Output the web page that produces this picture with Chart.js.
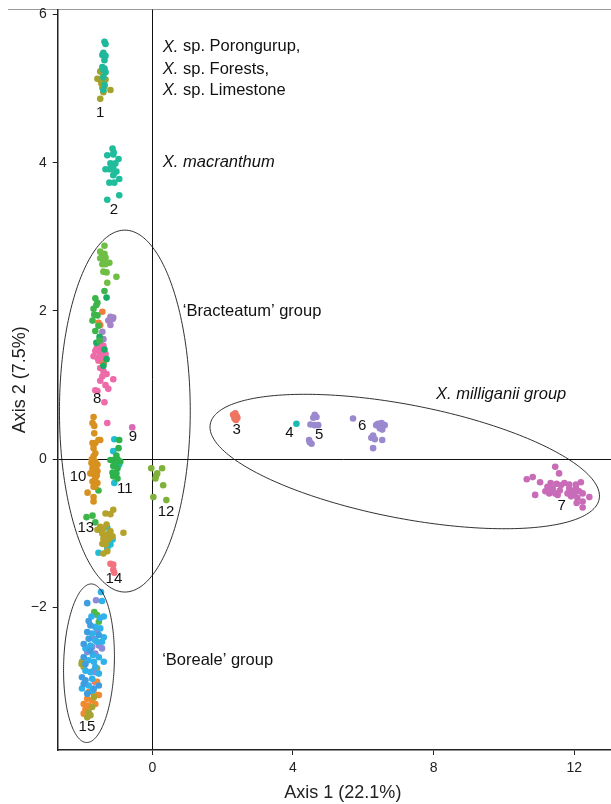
<!DOCTYPE html>
<html>
<head>
<meta charset="utf-8">
<script src="https://cdn.jsdelivr.net/npm/chart.js@4.4.1/dist/chart.umd.min.js"></script>
<style>
  html, body { margin: 0; padding: 0; background: #fff; overflow: hidden; }
  #wrap { width: 628px; height: 804px; }
</style>
</head>
<body>
<div id="wrap"><canvas id="c" width="628" height="804"></canvas></div>
<script>
// ---- PCoA scores (Axis 1, Axis 2) by group / colour ----
const g1Teal = [[-1.36,5.63],[-1.33,5.60],[-1.39,5.48],[-1.42,5.45],[-1.33,5.44],[-1.36,5.38],[-1.42,5.29],[-1.36,5.27],[-1.39,5.25],[-1.33,5.22],[-1.39,5.15],[-1.36,5.05],[-1.39,4.98]];
const g1Olive = [[-1.48,5.23],[-1.42,5.21],[-1.56,5.13],[-1.48,5.12],[-1.33,5.12],[-1.39,5.09],[-1.45,5.07],[-1.36,5.03],[-1.42,5.01],[-1.39,4.95],[-1.19,4.98],[-1.48,4.86]];
const g2Teal = [[-1.13,4.19],[-1.10,4.14],[-1.28,4.10],[-1.11,4.11],[-0.96,4.05],[-1.19,3.99],[-1.05,3.99],[-1.13,3.96],[-1.33,3.91],[-1.22,3.91],[-1.11,3.94],[-1.02,3.88],[-1.08,3.86],[-1.11,3.83],[-0.94,3.78],[-1.22,3.73],[-1.08,3.73],[-1.28,3.50],[-0.94,3.56]];
const g8Lime = [[-1.36,2.88],[-1.48,2.80],[-1.36,2.77],[-1.42,2.75],[-1.33,2.72],[-1.48,2.71],[-1.39,2.68],[-1.22,2.65],[-1.42,2.63],[-1.33,2.63],[-1.39,2.53],[-1.30,2.52],[-1.02,2.46],[-1.28,2.38]];
const g8Green = [[-1.36,2.27],[-1.62,2.17],[-1.67,2.03],[-1.56,2.11],[-1.70,1.87],[-1.56,1.94],[-1.62,1.73],[-1.53,1.80],[-1.59,2.08],[-1.65,1.95],[-1.50,1.60]];
const g8Dark = [[-1.30,2.18],[-1.59,1.57],[-1.36,1.48],[-1.39,1.26],[-1.30,1.35],[-1.50,1.65]];
const g8Orange = [[-1.42,1.99],[-1.48,1.81],[-1.39,1.29],[-1.53,1.84]];
const g8Purple = [[-1.19,1.92],[-1.11,1.91],[-1.25,1.87],[-1.13,1.89],[-1.19,1.81],[-1.42,1.72],[-1.39,1.62]];
const g8Pink = [[-1.48,1.56],[-1.39,1.53],[-1.62,1.46],[-1.48,1.43],[-1.67,1.39],[-1.56,1.37],[-1.42,1.38],[-1.33,1.42],[-1.53,1.33],[-1.39,1.30],[-1.48,1.23],[-1.39,1.19],[-1.42,1.12],[-1.48,1.06],[-1.11,1.08],[-1.25,0.95],[-1.56,0.92],[-1.36,0.77],[-1.45,1.48],[-1.58,1.50],[-1.36,1.35],[-1.30,1.15],[-1.62,0.93],[-1.28,0.49],[-1.33,1.00]];
const g9Pink = [[-0.57,0.43]];
const g10Gold = [[-1.67,0.57],[-1.70,0.49],[-1.65,0.45],[-1.65,0.35],[-1.53,0.26],[-1.70,0.22],[-1.62,0.22],[-1.48,0.26],[-1.67,0.15],[-1.62,0.08],[-1.67,0.04],[-1.62,-0.03],[-1.73,-0.05],[-1.56,-0.07],[-1.70,-0.12],[-1.65,-0.14],[-1.56,-0.16],[-1.76,-0.19],[-1.67,-0.20],[-1.62,-0.26],[-1.70,-0.30],[-1.56,-0.32],[-1.67,-0.37],[-1.62,-0.37],[-1.84,-0.45],[-1.67,-0.51],[-1.67,-0.57],[-1.60,-0.10],[-1.72,0.00],[-1.58,-0.22],[-1.64,-0.28]];
const g10Green = [[-1.53,-0.42]];
const g11Green = [[-0.94,0.26],[-0.96,0.15],[-1.02,0.05],[-1.19,-0.01],[-1.11,-0.01],[-0.99,0.00],[-0.91,-0.03],[-1.11,-0.09],[-0.99,-0.12],[-1.13,-0.18],[-1.02,-0.19],[-1.11,-0.23],[-0.99,-0.26],[-1.05,-0.05]];
const g11Cyan = [[-1.08,0.27],[-1.11,0.11],[-0.94,-0.07],[-1.08,-0.32]];
const g12Lime = [[-0.03,-0.12],[0.14,-0.19],[0.28,-0.12],[0.09,-0.26],[0.11,-0.22],[0.31,-0.35],[0.03,-0.51],[0.40,-0.55]];
const g13Olive = [[-1.33,-0.73],[-1.19,-0.74],[-1.11,-0.68],[-1.48,-0.91],[-1.56,-0.95],[-1.39,-0.93],[-1.42,-1.00],[-1.28,-1.01],[-1.13,-1.04],[-1.39,-1.07],[-1.25,-1.08],[-1.42,-1.14],[-1.33,-1.15],[-1.19,-0.97],[-0.82,-0.99],[-1.28,-1.24],[-1.39,-1.27],[-1.30,-0.88]];
const g13Green = [[-1.87,-0.78],[-1.70,-0.76],[-1.62,-0.85],[-1.48,-0.95]];
const g13Cyan = [[-1.28,-0.92],[-1.13,-1.08],[-1.19,-1.15],[-1.53,-1.26],[-1.28,-1.20]];
const g14Salmon = [[-1.19,-1.41],[-1.11,-1.42],[-1.11,-1.49],[-1.08,-1.53]];
const g15Blue = [[-1.85,-1.94],[-1.81,-2.18],[-1.76,-2.24],[-1.85,-2.33],[-1.52,-2.37],[-1.81,-2.42],[-1.95,-2.49],[-1.76,-2.58],[-1.95,-2.67],[-1.90,-2.76],[-2.00,-2.94],[-1.90,-2.98],[-1.95,-3.03],[-1.52,-3.05],[-1.85,-3.16],[-1.66,-3.09]];
const g15Light = [[-1.46,-1.79],[-1.43,-1.91],[-1.73,-2.12],[-1.49,-2.14],[-1.38,-2.12],[-1.62,-2.26],[-1.48,-2.28],[-1.71,-2.35],[-1.38,-2.40],[-1.62,-2.44],[-1.43,-2.46],[-1.76,-2.51],[-1.90,-2.55],[-1.52,-2.67],[-1.81,-2.71],[-1.38,-2.73],[-1.66,-2.73],[-1.62,-2.80],[-1.90,-2.85],[-1.76,-2.87],[-1.52,-2.89],[-1.71,-2.96],[-1.81,-3.05],[-2.00,-3.09],[-1.71,-3.12],[-1.57,-2.46],[-1.69,-2.64]];
const g15Peri = [[-1.60,-1.90],[-1.57,-2.33],[-1.71,-2.53],[-1.43,-2.55],[-1.85,-2.60],[-1.62,-2.62],[-1.52,-2.51],[-1.66,-2.42],[-1.62,-2.87]];
const g15Green = [[-1.65,-2.06],[-1.57,-2.10],[-1.52,-2.19]];
const g15Olive = [[-2.00,-2.73],[-2.01,-2.76],[-1.95,-2.80],[-1.57,-2.82],[-1.66,-3.21],[-1.71,-3.34],[-1.81,-3.41],[-1.85,-3.48],[-1.76,-3.45]];
const g15Orange = [[-1.81,-3.14],[-1.66,-3.16],[-1.52,-3.18],[-1.85,-3.23],[-1.71,-3.25],[-1.95,-3.30],[-1.81,-3.32],[-1.62,-3.30],[-1.90,-3.37],[-1.95,-3.43],[-1.57,-3.00]];
const g15Pink = [[-1.66,-2.85],[-1.64,-3.00]];
const g3Red = [[2.30,0.60],[2.36,0.62],[2.40,0.58],[2.34,0.55],[2.42,0.56],[2.38,0.53],[2.33,0.58]];
const g4Teal = [[4.10,0.48]];
const g5Purple = [[4.62,0.60],[4.67,0.57],[4.58,0.56],[4.50,0.47],[4.62,0.46],[4.72,0.46],[4.46,0.26],[4.53,0.21],[4.48,0.23]];
const g6Purple = [[5.71,0.55],[6.42,0.48],[6.52,0.49],[6.61,0.46],[6.47,0.42],[6.54,0.40],[6.37,0.46],[6.28,0.32],[6.23,0.29],[6.33,0.27],[6.54,0.26],[6.28,0.15]];
const g7Magenta = [[11.46,-0.10],[11.57,-0.19],[10.65,-0.27],[10.82,-0.24],[11.03,-0.31],[11.72,-0.32],[11.33,-0.32],[11.50,-0.33],[11.62,-0.35],[11.24,-0.37],[11.39,-0.39],[11.18,-0.43],[11.29,-0.46],[11.46,-0.46],[11.59,-0.42],[10.89,-0.48],[11.86,-0.34],[12.19,-0.31],[12.05,-0.39],[12.14,-0.43],[11.95,-0.43],[11.81,-0.46],[12.00,-0.48],[12.24,-0.46],[11.91,-0.50],[12.09,-0.52],[12.43,-0.51],[12.24,-0.57],[12.07,-0.59],[12.24,-0.65],[11.86,-0.39],[11.53,-0.48],[11.34,-0.42],[12.05,-0.34]];

// Group numbers and where they sit (data units)
const groupNames = ['1','2','3','4','5','6','7','8','9','10','11','12','13','14','15'];
const groupLabelAt = [[-1.48,4.67],[-1.09,3.37],[2.40,0.40],[3.90,0.36],[4.75,0.33],[5.97,0.45],[11.64,-0.63],[-1.57,0.81],[-0.55,0.30],[-2.11,-0.24],[-0.78,-0.40],[0.39,-0.71],[-1.89,-0.93],[-1.09,-1.61],[-1.86,-3.61]];

// Axis tick values
const xTickValues = [0, 4, 8, 12];
const yTickValues = [-2, 0, 2, 4, 6];

const FONT = "'Liberation Sans', Arial, Helvetica, sans-serif";

// Group outlines: centre and two conjugate semi-axes, in data units
const ellipses = [
  { c: [-0.78, 0.65], u: [1.86, 0], v: [0, 2.44] },
  { c: [-1.80, -2.75], u: [0.72, -0.011], v: [0.071, 1.069] },
  { c: [7.18, -0.03], u: [5.53, -0.506], v: [-0.302, -0.752] }
];

// Text notes: pieces with italic flags, left edge and vertical middle in data units
const notes = [
  { at: [0.30, 5.56], parts: [['X.', true], [' sp. Porongurup,', false]] },
  { at: [0.30, 5.26], parts: [['X.', true], [' sp. Forests,', false]] },
  { at: [0.30, 4.97], parts: [['X.', true], [' sp. Limestone', false]] },
  { at: [0.30, 4.00], parts: [['X. macranthum', true]] },
  { at: [0.87, 2.00], parts: [['\u2018Bracteatum\u2019 group', false]] },
  { at: [8.07, 0.87], parts: [['X. milliganii group', true]] },
  { at: [0.28, -2.71], parts: [['\u2018Boreale\u2019 group', false]] }
];

const series = [
  [g1Teal, '#1fb89b'], [g1Olive, '#a3a22c'], [g2Teal, '#20bd9d'],
  [g8Lime, '#6fbf44'], [g8Green, '#3db54a'], [g8Dark, '#1aac62'], [g8Orange, '#f07d3b'],
  [g8Purple, '#a484c9'], [g8Pink, '#ee6aa8'], [g9Pink, '#da6ab8'],
  [g10Gold, '#d8901f'], [g10Green, '#3cb54a'],
  [g11Green, '#2db24c'], [g11Cyan, '#1fbdd2'], [g12Lime, '#7eb23a'],
  [g13Olive, '#b5a22b'], [g13Green, '#3db54a'], [g13Cyan, '#22bcd4'], [g14Salmon, '#f2727e'],
  [g15Blue, '#3e9de0'], [g15Light, '#30b1ea'], [g15Peri, '#8a8cd8'], [g15Green, '#50b848'],
  [g15Olive, '#a6a330'], [g15Orange, '#ef8a2e'], [g15Pink, '#f0708c'],
  [g3Red, '#f07560'], [g4Teal, '#1cbab0'], [g5Purple, '#9b89cf'], [g6Purple, '#9b89cf'], [g7Magenta, '#c86cb8']
];

const datasets = series.map(([pts, col]) => ({
  data: pts.map(p => ({ x: p[0], y: p[1] })),
  backgroundColor: col,
  borderWidth: 0,
  pointRadius: 3.3,
  pointHoverRadius: 3.3
}));

const minusFmt = v => (v < 0 ? '\u2212' + Math.abs(v) : String(v));

const decorations = {
  id: 'decorations',
  beforeDraw(chart) {
    const { ctx, chartArea } = chart;
    ctx.save();
    ctx.strokeStyle = '#9a9a9a';
    ctx.lineWidth = 1;
    ctx.beginPath();
    ctx.moveTo(8, Math.round(chartArea.top) - 0.5);
    ctx.lineTo(chart.width, Math.round(chartArea.top) - 0.5);
    ctx.stroke();
    ctx.restore();
  },
  afterDatasetsDraw(chart) {
    const { ctx, scales: { x, y } } = chart;
    ctx.save();
    // outlines
    ctx.strokeStyle = '#1a1a1a';
    ctx.lineWidth = 0.9;
    ellipses.forEach(e => {
      ctx.beginPath();
      for (let i = 0; i <= 240; i++) {
        const t = (i / 240) * Math.PI * 2;
        const dx = e.c[0] + e.u[0] * Math.cos(t) + e.v[0] * Math.sin(t);
        const dy = e.c[1] + e.u[1] * Math.cos(t) + e.v[1] * Math.sin(t);
        const px = x.getPixelForValue(dx), py = y.getPixelForValue(dy);
        if (i === 0) ctx.moveTo(px, py); else ctx.lineTo(px, py);
      }
      ctx.closePath();
      ctx.stroke();
    });
    // group numbers
    ctx.fillStyle = '#111';
    ctx.font = '15px ' + FONT;
    ctx.textAlign = 'center';
    ctx.textBaseline = 'middle';
    groupNames.forEach((n, i) => {
      const p = groupLabelAt[i];
      ctx.fillText(n, x.getPixelForValue(p[0]), y.getPixelForValue(p[1]));
    });
    // notes with mixed italics
    ctx.textAlign = 'left';
    notes.forEach(nt => {
      let px = x.getPixelForValue(nt.at[0]);
      const py = y.getPixelForValue(nt.at[1]);
      nt.parts.forEach(([txt, it]) => {
        ctx.font = (it ? 'italic ' : '') + '16.5px ' + FONT;
        ctx.fillText(txt, px, py);
        px += ctx.measureText(txt).width;
      });
    });
    ctx.restore();
  }
};

const zeroOnly = c => (c.tick && c.tick.value === 0 ? '#111' : 'rgba(0,0,0,0)');
const clearPads = s => { s.paddingLeft = 0; s.paddingRight = 0; s.paddingTop = 0; s.paddingBottom = 0; };

new Chart(document.getElementById('c'), {
  type: 'scatter',
  data: { datasets },
  plugins: [decorations],
  options: {
    responsive: false,
    devicePixelRatio: 1,
    animation: false,
    events: [],
    layout: { autoPadding: false, padding: { top: 9.5, left: 0, right: 0, bottom: 0 } },
    plugins: { legend: { display: false }, tooltip: { enabled: false } },
    scales: {
      x: {
        type: 'linear',
        min: -2.69,
        max: 13.53,
        afterBuildTicks: s => { s.ticks = xTickValues.map(v => ({ value: v })); },
        afterFit: s => { s.height = 54; clearPads(s); },
        ticks: { color: '#222', font: { family: FONT, size: 14 }, padding: 5, callback: v => minusFmt(v) },
        grid: { color: zeroOnly, lineWidth: 1, tickColor: '#222', tickLength: 5, drawTicks: true },
        border: { display: true, color: '#222', width: 1.5 },
        title: { display: true, text: 'Axis 1 (22.1%)', color: '#222', font: { family: FONT, size: 18 }, padding: { top: 0, bottom: 0 } }
      },
      y: {
        type: 'linear',
        min: -3.92,
        max: 6.065,
        afterBuildTicks: s => { s.ticks = yTickValues.map(v => ({ value: v })); },
        afterFit: s => { s.width = 57.7; clearPads(s); },
        ticks: { color: '#222', font: { family: FONT, size: 14 }, padding: 6, callback: v => minusFmt(v) },
        grid: { color: zeroOnly, lineWidth: 1, tickColor: '#222', tickLength: 5, drawTicks: true },
        border: { display: true, color: '#222', width: 1.5 },
        title: { display: true, text: 'Axis 2 (7.5%)', color: '#222', font: { family: FONT, size: 18 }, padding: { top: 9, bottom: 0 } }
      }
    }
  }
});
</script>
</body>
</html>
